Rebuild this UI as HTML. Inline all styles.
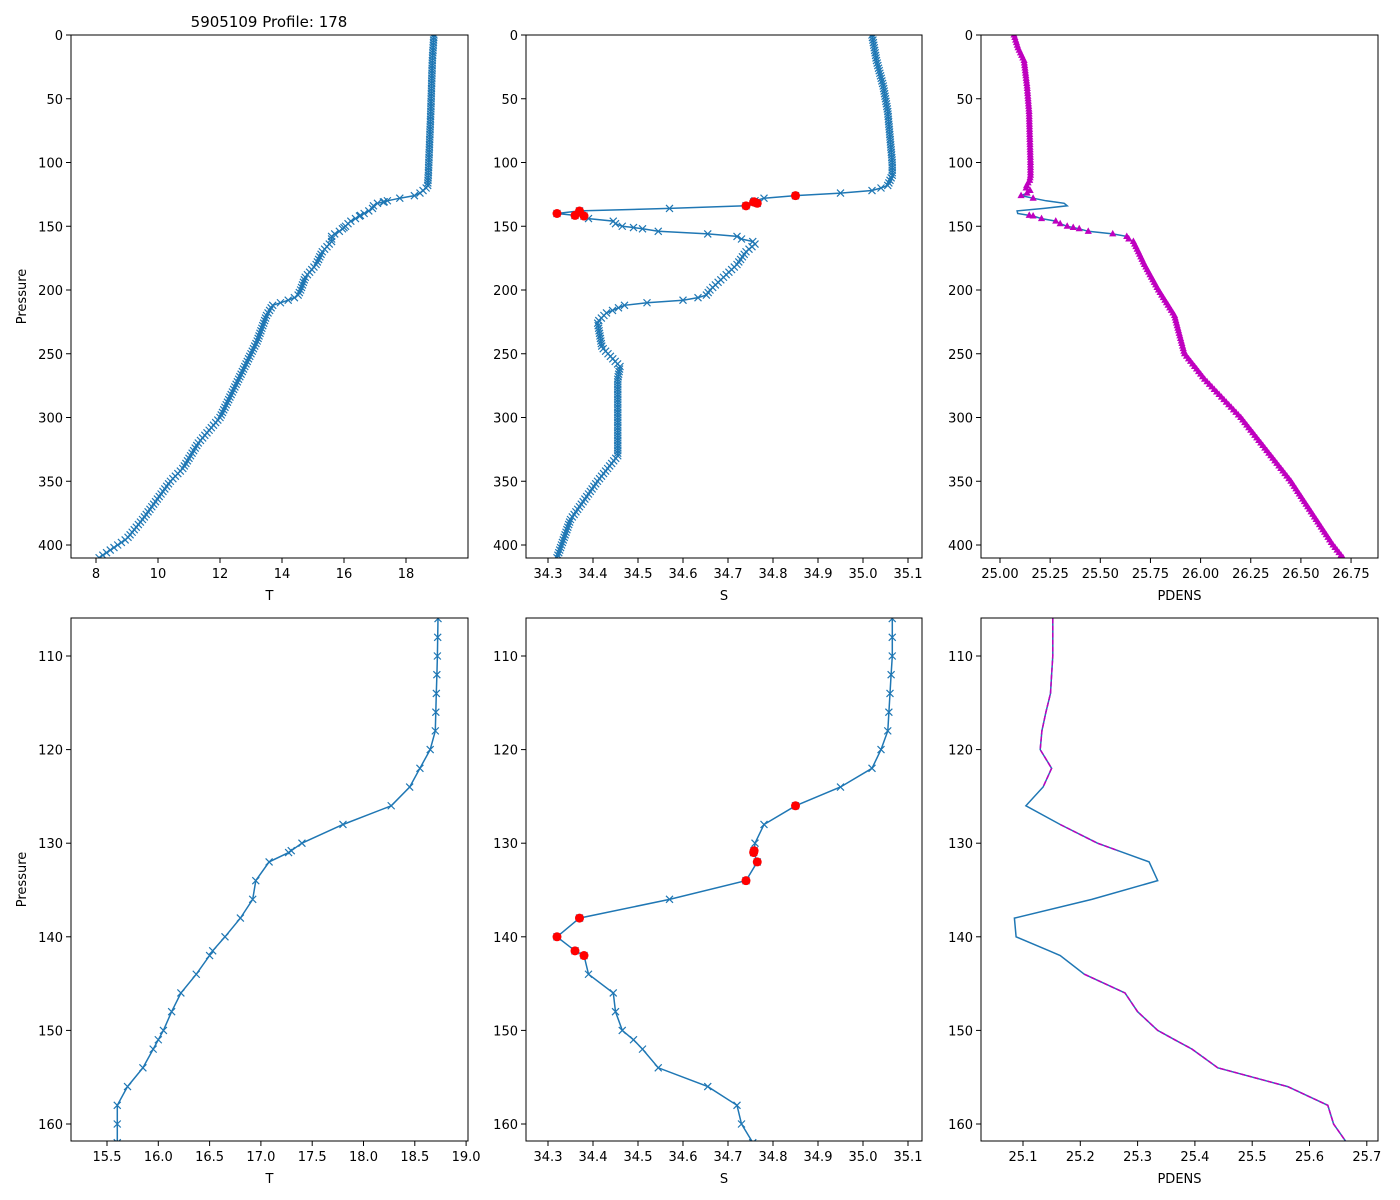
<!DOCTYPE html>
<html><head><meta charset="utf-8"><style>
html,body{margin:0;padding:0;background:#fff;overflow:hidden;width:1400px;height:1200px;}
svg{display:block;font-family:"DejaVu Sans","Liberation Sans",sans-serif;}
</style></head><body>
<svg id="s" width="1400" height="1200" xmlns="http://www.w3.org/2000/svg"></svg>
<script>
const B='#1f77b4',M='#bf00bf';
function interp(a,p){for(let i=0;i<a.length-1;i++){if(p>=a[i][0]&&p<=a[i+1][0]){const t=(p-a[i][0])/(a[i+1][0]-a[i][0]);return a[i][1]+t*(a[i+1][1]-a[i][1]);}}return p<a[0][0]?a[0][1]:a[a.length-1][1];}
const TA=[[0,18.9],[20,18.85],[60,18.8],[110,18.72],[118,18.7],[120,18.65],[122,18.55],[124,18.45],[126,18.27],[128,17.8],[130,17.4],[131,17.27],[132,17.08],[134,16.95],[136,16.92],[138,16.8],[140,16.65],[141.5,16.53],[142,16.5],[144,16.37],[146,16.22],[148,16.13],[150,16.05],[151,16.0],[152,15.95],[154,15.85],[156,15.7],[158,15.6],[162,15.6],[170,15.3],[180,15.1],[190,14.75],[200,14.6],[205,14.5],[208,14.2],[212,13.7],[220,13.5],[240,13.2],[255,12.9],[270,12.6],[290,12.2],[300,12.0],[320,11.3],[340,10.8],[350,10.4],[360,10.1],[380,9.5],[395,9.0],[405,8.4],[410,8.1]];
const SA=[[0,35.02],[20,35.03],[40,35.045],[60,35.055],[80,35.06],[100,35.065],[110,35.065],[114,35.06],[118,35.055],[120,35.04],[122,35.02],[124,34.95],[126,34.85],[128,34.78],[130,34.76],[130.8,34.758],[131,34.757],[132,34.765],[134,34.74],[136,34.57],[138,34.37],[140,34.32],[141.5,34.36],[142,34.38],[144,34.39],[146,34.445],[148,34.45],[150,34.465],[151,34.49],[152,34.51],[154,34.545],[156,34.655],[158,34.72],[160,34.73],[162,34.755],[164,34.76],[170,34.74],[180,34.72],[190,34.69],[200,34.66],[205,34.65],[208,34.6],[210,34.52],[212,34.47],[218,34.43],[225,34.41],[245,34.42],[260,34.46],[270,34.455],[330,34.455],[350,34.41],[380,34.35],[400,34.33],[410,34.32]];
const DA=[[0,25.07],[10,25.09],[20,25.12],[40,25.135],[60,25.145],[100,25.152],[110,25.152],[114,25.148],[116,25.14],[118,25.133],[120,25.13],[122,25.15],[124,25.135],[126,25.105],[128,25.165],[130,25.23],[132,25.32],[134,25.335],[136,25.22],[138,25.085],[140,25.088],[142,25.165],[144,25.207],[146,25.278],[148,25.3],[150,25.335],[152,25.395],[154,25.44],[156,25.562],[158,25.632],[160,25.642],[162,25.665],[170,25.69],[180,25.72],[200,25.79],[220,25.87],[250,25.92],[270,26.02],[300,26.2],[350,26.45],[400,26.66],[410,26.71]];
let P=[];for(let p=0;p<=410;p+=2){P.push(p);if(p==130){P.push(130.8,131);}if(p==140)P.push(141.5);if(p==150)P.push(151);}
let out='';
function ax(x0,x1,y0,y1,xt,ymap,xmap,yt,xlab,ylab,id){
 out+=`<clipPath id="${id}"><rect x="${x0}" y="${y0}" width="${x1-x0}" height="${y1-y0}"/></clipPath>`;
 for(const [v,l] of xt){const x=xmap(v);out+=`<line x1="${x}" y1="${y1}" x2="${x}" y2="${y1+5}" stroke="#000"/><text x="${x}" y="${y1+20}" font-size="13" text-anchor="middle">${l}</text>`;}
 for(const [v,l] of yt){const y=ymap(v);out+=`<line x1="${x0-5}" y1="${y}" x2="${x0}" y2="${y}" stroke="#000"/><text x="${x0-8}" y="${y+5}" font-size="13" text-anchor="end">${l}</text>`;}
 out+=`<text x="${(x0+x1)/2}" y="${y1+42}" font-size="13" text-anchor="middle">${xlab}</text>`;
 if(ylab)out+=`<text transform="translate(26,${(y0+y1)/2}) rotate(-90)" font-size="13" text-anchor="middle">${ylab}</text>`;
}
function frame(x0,x1,y0,y1){out+=`<rect x="${x0}" y="${y0}" width="${x1-x0}" height="${y1-y0}" fill="none" stroke="#000" stroke-width="1"/>`;}
function series(A,xmap,ymap,id,opt){
 const pts=P.map(p=>[xmap(interp(A,p)),ymap(p),p]);
 out+=`<g clip-path="url(#${id})">`;
 out+=`<polyline fill="none" stroke="${B}" stroke-width="1.5" points="${pts.map(q=>q[0].toFixed(1)+','+q[1].toFixed(1)).join(' ')}"/>`;
 if(opt.x){for(const q of pts){const [x,y]=q;out+=`<path d="M${x-3.5},${y-3.5}L${x+3.5},${y+3.5}M${x-3.5},${y+3.5}L${x+3.5},${y-3.5}" stroke="${B}" stroke-width="1.2"/>`;}}
 if(opt.red){for(const p of [126,130.8,131,132,134,138,140,141.5,142]){out+=`<circle cx="${xmap(interp(A,p))}" cy="${ymap(p)}" r="4.5" fill="#f00"/>`;}}
 if(opt.tri){for(const q of pts){if(q[2]>129&&q[2]<141)continue;const [x,y]=q;out+=`<path d="M${x},${y-4}L${x+3.6},${y+2.5}L${x-3.6},${y+2.5}Z" fill="${M}"/>`;}}
 if(opt.mag){for(const r of [[106,124],[128,130.8],[144,162]]){const pp=pts.filter(q=>q[2]>=r[0]&&q[2]<=r[1]);out+=`<polyline fill="none" stroke="${M}" stroke-width="1.5" stroke-dasharray="5,2" points="${pp.map(q=>q[0].toFixed(1)+','+q[1].toFixed(1)).join(' ')}"/>`;}}
 out+='</g>';
}
const yT=p=>35+p*1.275;
const ytT=[0,50,100,150,200,250,300,350,400].map(v=>[v,v]);
const xT1=v=>96+(v-8)*31;
const xS=v=>548+(v-34.3)*450;
const xD1=v=>1000+(v-25)*200.6;
ax(71,468,35,558,[8,10,12,14,16,18].map(v=>[v,v]),yT,xT1,ytT,'T','Pressure','c1');
series(TA,xT1,yT,'c1',{x:1});frame(71,468,35,558);
ax(526,922,35,558,[34.3,34.4,34.5,34.6,34.7,34.8,34.9,35.0,35.1].map(v=>[v,v.toFixed(1)]),yT,xS,ytT,'S','','c2');
series(SA,xS,yT,'c2',{x:1,red:1});frame(526,922,35,558);
ax(981,1378,35,558,[25,25.25,25.5,25.75,26,26.25,26.5,26.75].map(v=>[v,v.toFixed(2)]),yT,xD1,ytT,'PDENS','','c3');
series(DA,xD1,yT,'c3',{tri:1});frame(981,1378,35,558);
const yB=p=>656+(p-110)*9.36;
const ytB=[110,120,130,140,150,160].map(v=>[v,v]);
const xT2=v=>107+(v-15.5)*102.6;
const xD2=v=>1023+(v-25.1)*573;
ax(71,468,618,1141,[15.5,16,16.5,17,17.5,18,18.5,19].map(v=>[v,v.toFixed(1)]),yB,xT2,ytB,'T','Pressure','c4');
series(TA,xT2,yB,'c4',{x:1});frame(71,468,618,1141);
ax(526,922,618,1141,[34.3,34.4,34.5,34.6,34.7,34.8,34.9,35.0,35.1].map(v=>[v,v.toFixed(1)]),yB,xS,ytB,'S','','c5');
series(SA,xS,yB,'c5',{x:1,red:1});frame(526,922,618,1141);
ax(981,1378,618,1141,[25.1,25.2,25.3,25.4,25.5,25.6,25.7].map(v=>[v,v.toFixed(1)]),yB,xD2,ytB,'PDENS','','c6');
series(DA,xD2,yB,'c6',{mag:1});frame(981,1378,618,1141);
out+=`<text x="269" y="27" font-size="15" text-anchor="middle">5905109 Profile: 178</text>`;
document.getElementById('s').innerHTML=out;
</script>
</body></html>
